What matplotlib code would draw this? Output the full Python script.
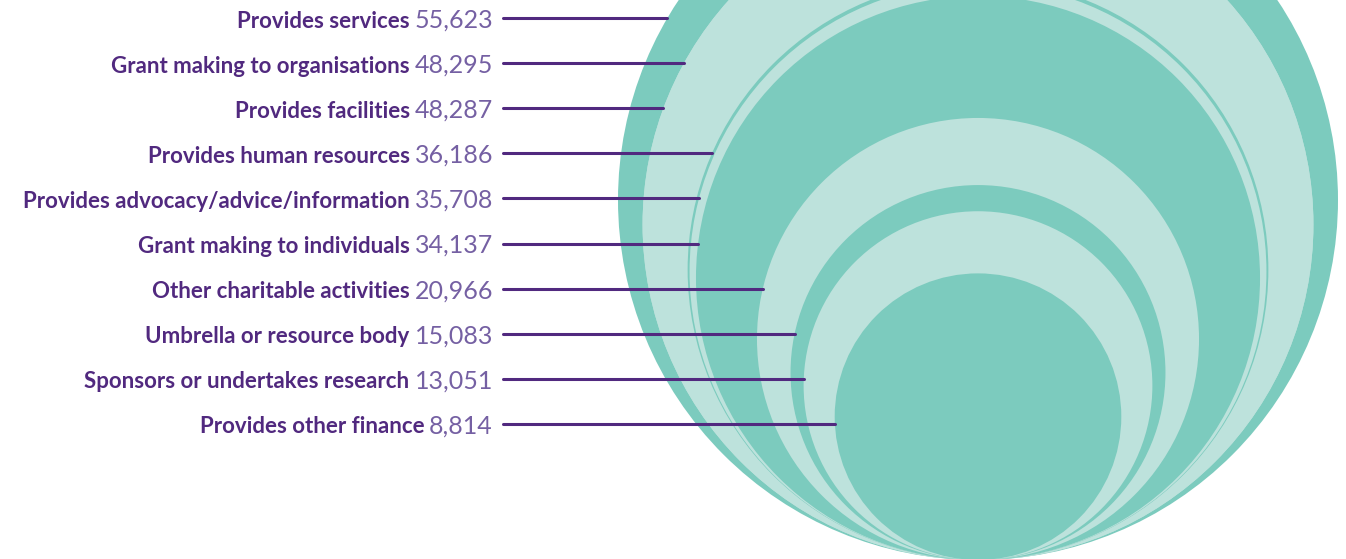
import numpy as np
import matplotlib.pyplot as plt
from matplotlib.patches import Circle

# Charity activity counts
labels = [
    "Provides services",
    "Grant making to organisations",
    "Provides facilities",
    "Provides human resources",
    "Provides advocacy/advice/information",
    "Grant making to individuals",
    "Other charitable activities",
    "Umbrella or resource body",
    "Sponsors or undertakes research",
    "Provides other finance",
]
values = [55623, 48295, 48287, 36186, 35708, 34137, 20966, 15083, 13051, 8814]

DARK = "#7ccbbe"
LIGHT = "#bde2dc"
fills = [DARK, LIGHT, LIGHT, DARK, LIGHT, DARK, LIGHT, DARK, LIGHT, DARK]
PURPLE = "#51297f"
NUM_PURPLE = "#7560a3"

W, H = 1346, 559
fig = plt.figure(figsize=(W / 100, H / 100), dpi=100)
ax = fig.add_axes([0, 0, 1, 1])
ax.set_xlim(0, W)
ax.set_ylim(H, 0)
ax.set_aspect("equal")
ax.axis("off")

# nested circles, area proportional to value, all touching at the bottom
r_max = 360
cx, bottom = 978, 560
radii = [r_max * np.sqrt(v / max(values)) for v in values]
for r, c in zip(radii, fills):
    ax.add_patch(Circle((cx, bottom - r), r, facecolor=c, edgecolor="none"))

# labels and leader lines
y0, step = 18, 45.1
text_right = 493
line_start = 503
renderer = fig.canvas.get_renderer()
for i, (lab, v, r) in enumerate(zip(labels, values, radii)):
    y = y0 + i * step
    cy = bottom - r
    x_end = cx - np.sqrt(r ** 2 - (y - cy) ** 2)
    ax.plot([line_start, x_end], [y, y], color=PURPLE, lw=2.2,
            solid_capstyle="round", zorder=5)
    num = ax.text(text_right, y + 9.5, f"{v:,}", ha="right", va="baseline",
                  fontsize=18, family="Lato", fontweight="normal",
                  color=NUM_PURPLE)
    bb = num.get_window_extent(renderer)
    x_lab = ax.transData.inverted().transform((bb.x0, 0))[0] - 5
    ax.text(x_lab, y + 9.5, lab, ha="right", va="baseline", fontsize=16,
            family="Lato", fontweight="bold", color=PURPLE)

fig.savefig("out.png", dpi=100)
